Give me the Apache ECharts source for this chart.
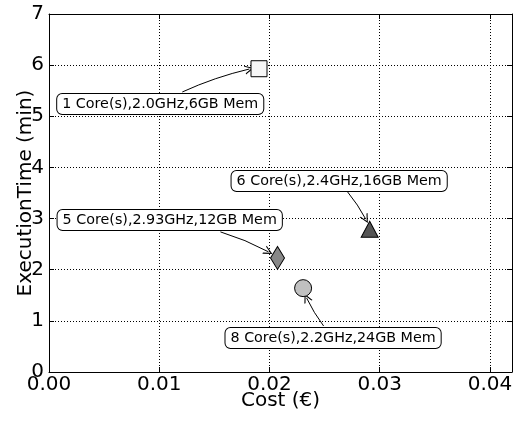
<!DOCTYPE html>
<html>
<head>
<meta charset="utf-8">
<script src="https://cdn.jsdelivr.net/npm/echarts@6/dist/echarts.min.js"></script>
<style>html,body{margin:0;padding:0;background:#fff;}#c{width:520px;height:421px;}</style>
</head>
<body>
<div id="c"></div>
<script>
// ---- data ----
const configs = ['1 Core(s),2.0GHz,6GB Mem', '6 Core(s),2.4GHz,16GB Mem', '5 Core(s),2.93GHz,12GB Mem', '8 Core(s),2.2GHz,24GB Mem'];
const costs = [0.01905, 0.02909, 0.02073, 0.02305];
const times = [5.93, 2.79, 2.23, 1.64];
const xTickLabels = ['0.00', '0.01', '0.02', '0.03', '0.04'];
const yTickLabels = ['0', '1', '2', '3', '4', '5', '6', '7'];

// ---- styles / layout (not data) ----
const markers = [
  { symbol: 'rect', size: [16, 16], color: '#f7f7f7' },
  { symbol: 'triangle', size: [17, 16], color: '#555555' },
  { symbol: 'diamond', size: [14, 23], color: '#888888' },
  { symbol: 'circle', size: [17, 17], color: '#c0c0c0' }
];
// annotation box centres, arrow starts and arrow tips (data coordinates)
const boxAt = [[0.01009, 5.24], [0.02632, 3.735], [0.01095, 2.972], [0.02577, 0.665]];
const arrowFrom = [[0.01209, 5.475], [0.02709, 3.52], [0.01555, 2.74], [0.02491, 0.90]];
const arrowTo = [[0.01818, 5.925], [0.02873, 2.99], [0.01991, 2.35], [0.02336, 1.45]];

const FONT = 'DejaVu Sans';
const arrowHead = 'path://M0,10 L5,0 L10,10 L8.6,10 L5,2.6 L1.4,10 Z';

const chart = echarts.init(document.getElementById('c'), null, { renderer: 'canvas' });

const xBase = { type: 'value', min: 0, max: 0.042, interval: 0.01 };
const yBase = { type: 'value', min: 0, max: 7, interval: 1 };
const lineBlack = { show: true, onZero: false, lineStyle: { color: '#000', width: 1 } };
const tickIn = { show: true, inside: true, length: 5, lineStyle: { color: '#000', width: 1 } };
const dotted = { show: true, lineStyle: { color: '#000', width: 1, type: [1, 2] } };

const series = configs.map((name, i) => ({
  name: name,
  type: 'scatter',
  z: 5,
  symbol: markers[i].symbol,
  symbolSize: markers[i].size,
  itemStyle: { color: markers[i].color, borderColor: '#000', borderWidth: 1, opacity: 1 },
  data: [[costs[i], times[i]]],
  markPoint: {
    silent: true,
    symbol: 'rect',
    symbolSize: 1,
    itemStyle: { color: 'rgba(0,0,0,0)' },
    z: 6,
    label: {
      show: true,
      position: 'inside',
      formatter: name,
      fontFamily: FONT,
      fontSize: 14.3,
      color: '#000',
      backgroundColor: '#fff',
      borderColor: '#000',
      borderWidth: 1,
      borderRadius: 5,
      padding: [3, 5, 3, 5]
    },
    data: [{ coord: boxAt[i] }]
  }
}));

series.push({
  type: 'lines',
  coordinateSystem: 'cartesian2d',
  z: 4,
  silent: true,
  symbol: ['none', arrowHead],
  symbolSize: 9,
  lineStyle: { color: '#000', width: 1, opacity: 1, curveness: 0.05 },
  data: configs.map((_, i) => ({ coords: [arrowFrom[i], arrowTo[i]] }))
});

chart.setOption({
  animation: false,
  backgroundColor: '#fff',
  grid: { left: 49, right: 8, top: 14, bottom: 49, containLabel: false, outerBoundsMode: 'none' },
  xAxis: [
    Object.assign({}, xBase, {
      position: 'bottom',
      name: 'Cost (€)',
      nameLocation: 'middle',
      nameGap: 19,
      nameMoveOverlap: false,
      nameTextStyle: { fontFamily: FONT, fontSize: 20, color: '#000' },
      axisLine: lineBlack,
      axisTick: tickIn,
      axisLabel: {
        fontFamily: FONT, fontSize: 20, color: '#000', margin: 3,
        showMaxLabel: false,
        formatter: v => xTickLabels[Math.round(v / 0.01)] || ''
      },
      splitLine: dotted
    }),
    Object.assign({}, xBase, {
      position: 'top',
      axisLine: lineBlack,
      axisTick: tickIn,
      axisLabel: { show: false },
      splitLine: { show: false }
    })
  ],
  yAxis: [
    Object.assign({}, yBase, {
      position: 'left',
      name: 'ExecutionTime (min)',
      nameLocation: 'middle',
      nameGap: 13,
      nameMoveOverlap: false,
      nameTextStyle: { fontFamily: FONT, fontSize: 20, color: '#000' },
      axisLine: lineBlack,
      axisTick: tickIn,
      axisLabel: {
        fontFamily: FONT, fontSize: 20, color: '#000', margin: 5,
        formatter: v => yTickLabels[Math.round(v)]
      },
      splitLine: dotted
    }),
    Object.assign({}, yBase, {
      position: 'right',
      axisLine: lineBlack,
      axisTick: tickIn,
      axisLabel: { show: false },
      splitLine: { show: false }
    })
  ],
  series: series
});
</script>
</body>
</html>
